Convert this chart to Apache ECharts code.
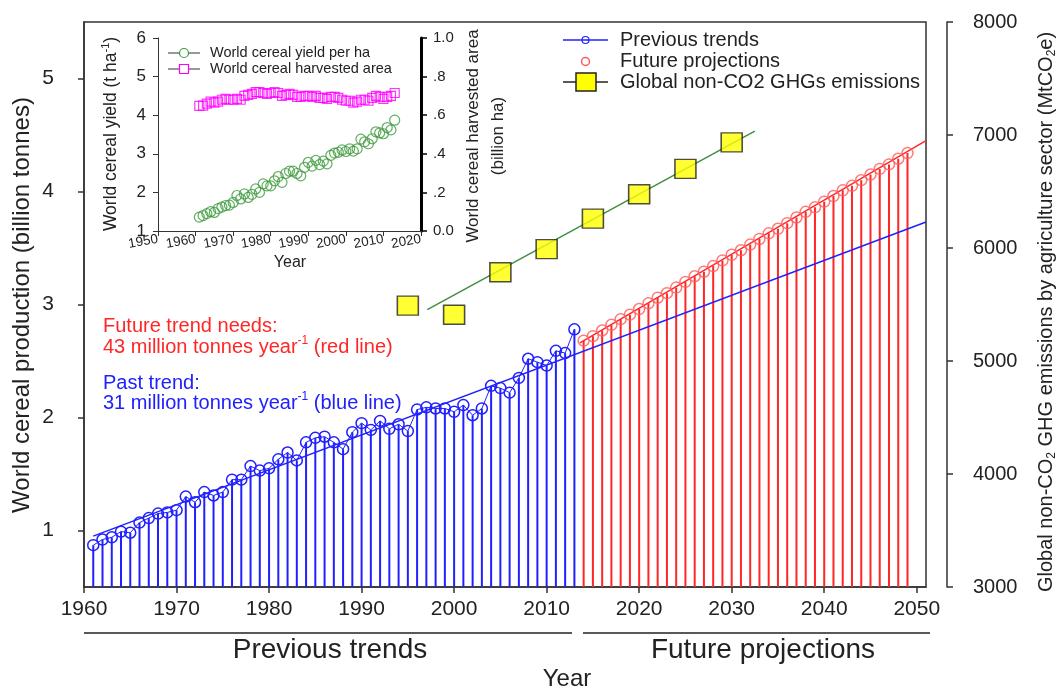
<!DOCTYPE html>
<html>
<head>
<meta charset="utf-8">
<script src="https://cdn.jsdelivr.net/npm/echarts@6/dist/echarts.min.js"></script>
<style>
  html, body { margin: 0; padding: 0; background: #fff; }
  #chart { width: 1063px; height: 691px; }
</style>
</head>
<body>
<div id="chart"></div>
<script>
// World cereal production (billion tonnes), observed years
const pastYears = [1961,1962,1963,1964,1965,1966,1967,1968,1969,1970,
  1971,1972,1973,1974,1975,1976,1977,1978,1979,1980,
  1981,1982,1983,1984,1985,1986,1987,1988,1989,1990,
  1991,1992,1993,1994,1995,1996,1997,1998,1999,2000,
  2001,2002,2003,2004,2005,2006,2007,2008,2009,2010,
  2011,2012,2013];
const pastProduction = [0.87,0.92,0.94,0.99,0.98,1.07,1.11,1.15,1.16,1.18,
  1.30,1.25,1.34,1.31,1.34,1.45,1.45,1.57,1.53,1.55,
  1.63,1.69,1.62,1.78,1.82,1.83,1.78,1.72,1.87,1.95,
  1.89,1.97,1.90,1.94,1.88,2.07,2.09,2.08,2.08,2.05,
  2.11,2.02,2.08,2.28,2.26,2.22,2.35,2.52,2.49,2.46,
  2.59,2.57,2.78];

// Projected production needed to 2049
const futureYears = [2014,2015,2016,2017,2018,2019,2020,2021,2022,2023,
  2024,2025,2026,2027,2028,2029,2030,2031,2032,2033,
  2034,2035,2036,2037,2038,2039,2040,2041,2042,2043,
  2044,2045,2046,2047,2048,2049];
const futureProduction = [2.68,2.72,2.77,2.82,2.87,2.91,2.96,3.01,3.06,3.10,
  3.15,3.20,3.25,3.29,3.34,3.39,3.44,3.48,3.53,3.58,
  3.63,3.67,3.72,3.77,3.82,3.86,3.91,3.96,4.01,4.05,
  4.10,4.15,4.20,4.24,4.29,4.34];

// Trend lines (end points)
const pastTrend = [[1961, 0.95], [2051, 3.73]];
const futureTrend = [[2013.6, 2.66], [2051, 4.45]];

// Global non-CO2 GHG emissions from agriculture (MtCO2e)
const emissionYears = [1995, 2000, 2005, 2010, 2015, 2020, 2025, 2030];
const emissions = [5490, 5410, 5785, 5990, 6260, 6475, 6700, 6935];
const emissionTrend = [[1997.1, 5455], [2032.5, 7035]];

// Inset: yield (t/ha) and harvested area (billion ha), same years as pastYears
const cerealYield = [1.36,1.40,1.45,1.50,1.48,1.58,1.62,1.66,1.67,1.74,
  1.92,1.83,1.96,1.87,1.95,2.09,2.00,2.22,2.17,2.17,
  2.30,2.41,2.26,2.49,2.55,2.55,2.49,2.43,2.65,2.78,
  2.68,2.83,2.72,2.81,2.74,2.96,3.02,3.04,3.10,3.06,
  3.13,3.07,3.13,3.38,3.31,3.26,3.39,3.57,3.54,3.52,
  3.68,3.62,3.87];
const harvestedArea = [0.648,0.650,0.660,0.670,0.665,0.670,0.680,0.685,0.680,0.680,
  0.685,0.680,0.700,0.705,0.710,0.720,0.720,0.715,0.710,0.715,
  0.720,0.715,0.700,0.705,0.710,0.705,0.695,0.695,0.700,0.700,
  0.695,0.700,0.690,0.690,0.685,0.695,0.695,0.690,0.680,0.675,
  0.675,0.665,0.670,0.680,0.680,0.675,0.690,0.700,0.695,0.685,
  0.695,0.700,0.715];

// Tick positions
const mainXTicks = [1960, 1970, 1980, 1990, 2000, 2010, 2020, 2030, 2040, 2050];
const mainYTicks = [1, 2, 3, 4, 5];

const FONT = "'Liberation Sans', Arial, sans-serif";
const INK = '#222';
const BLUE = '#2020ff';
const RED = '#ff2626';
const Y_BASE = 0.5;

const pairs = (xs, ys) => xs.map((x, i) => [x, ys[i]]);
const plain = v => String(v);

function stemRenderer(color) {
  return function (params, api) {
    const top = api.coord([api.value(0), api.value(1)]);
    const base = api.coord([api.value(0), Y_BASE]);
    return {
      type: 'line',
      shape: { x1: top[0], y1: top[1], x2: base[0], y2: base[1] },
      style: { stroke: color, lineWidth: 2 }
    };
  };
}

const chart = echarts.init(document.getElementById('chart'), null, { renderer: 'canvas' });

const axisLineDark = { show: true, lineStyle: { color: '#333', width: 1.5 } };

const option = {
  backgroundColor: '#fff',
  animation: false,
  textStyle: { fontFamily: FONT },
  grid: [
    { left: 84, right: 137, top: 22, bottom: 104, show: true, borderColor: '#333', borderWidth: 1.5, backgroundColor: 'transparent' },
    { left: 158, right: 642, top: 38, bottom: 460 }
  ],
  xAxis: [
    {
      gridIndex: 0, type: 'value', min: 1960, max: 2051,
      axisLine: axisLineDark,
      axisTick: { show: true, length: 6, customValues: mainXTicks, lineStyle: { color: '#333', width: 1.5 } },
      axisLabel: { customValues: mainXTicks, fontSize: 21, color: INK, margin: 12, fontFamily: FONT, formatter: plain },
      splitLine: { show: false }
    },
    {
      gridIndex: 1, type: 'value', min: 1950, max: 2020, interval: 10,
      axisLine: { show: true, lineStyle: { color: '#333', width: 1 } },
      axisTick: { show: true, length: 5, lineStyle: { color: '#333' } },
      axisLabel: { fontSize: 13.5, color: INK, margin: 8, rotate: 10, fontFamily: FONT, formatter: plain },
      splitLine: { show: false }
    }
  ],
  yAxis: [
    {
      gridIndex: 0, type: 'value', min: 0.5, max: 5.5, position: 'left',
      axisLine: axisLineDark,
      axisTick: { show: true, length: 6, customValues: mainYTicks, lineStyle: { color: '#333', width: 1.5 } },
      axisLabel: { customValues: mainYTicks, fontSize: 21, color: INK, margin: 30, fontFamily: FONT },
      splitLine: { show: false }
    },
    {
      gridIndex: 0, type: 'value', min: 3000, max: 8000, interval: 1000, position: 'right', offset: 21,
      axisLine: axisLineDark,
      axisTick: { show: true, length: 6, lineStyle: { color: '#333', width: 1.5 } },
      axisLabel: { fontSize: 20, color: INK, margin: 26, fontFamily: FONT, formatter: plain },
      splitLine: { show: false }
    },
    {
      gridIndex: 1, type: 'value', min: 1, max: 6, interval: 1, position: 'left',
      axisLine: { show: true, lineStyle: { color: '#333', width: 1 } },
      axisTick: { show: true, length: 5, lineStyle: { color: '#333' } },
      axisLabel: { fontSize: 17, color: INK, margin: 12, fontFamily: FONT },
      splitLine: { show: false }
    },
    {
      gridIndex: 1, type: 'value', min: 0, max: 1, interval: 0.2, position: 'right',
      axisLine: { show: true, lineStyle: { color: '#000', width: 3 } },
      axisTick: { show: true, length: 6, lineStyle: { color: '#000', width: 1.5 } },
      axisLabel: {
        fontSize: 15, color: INK, margin: 12, fontFamily: FONT,
        formatter: v => (v === 0 ? '0.0' : v === 1 ? '1.0' : '.' + Math.round(v * 10))
      },
      splitLine: { show: false }
    }
  ],
  series: [
    {
      name: 'Past stems', type: 'custom', coordinateSystem: 'cartesian2d',
      xAxisIndex: 0, yAxisIndex: 0, encode: { x: 0, y: 1 },
      data: pairs(pastYears, pastProduction), renderItem: stemRenderer(BLUE), z: 2
    },
    {
      name: 'Future stems', type: 'custom', coordinateSystem: 'cartesian2d',
      xAxisIndex: 0, yAxisIndex: 0, encode: { x: 0, y: 1 },
      data: pairs(futureYears, futureProduction), renderItem: stemRenderer(RED), z: 2
    },
    {
      name: 'Past trend', type: 'line', xAxisIndex: 0, yAxisIndex: 0,
      data: pastTrend, symbol: 'none', lineStyle: { color: BLUE, width: 1.5 }, z: 3
    },
    {
      name: 'Future trend', type: 'line', xAxisIndex: 0, yAxisIndex: 0,
      data: futureTrend, symbol: 'none', lineStyle: { color: RED, width: 1.5 }, z: 3
    },
    {
      name: 'Previous trends', type: 'line', xAxisIndex: 0, yAxisIndex: 0,
      data: pairs(pastYears, pastProduction),
      symbol: 'circle', symbolSize: 11, showAllSymbol: true,
      lineStyle: { color: BLUE, width: 1 },
      itemStyle: { color: 'rgba(0,0,0,0)', borderColor: BLUE, borderWidth: 1.5 }, z: 4
    },
    {
      name: 'Future projections', type: 'scatter', xAxisIndex: 0, yAxisIndex: 0,
      data: pairs(futureYears, futureProduction),
      symbol: 'circle', symbolSize: 11,
      itemStyle: { color: 'rgba(0,0,0,0)', borderColor: '#ff5a5a', borderWidth: 1.5 }, z: 4
    },
    {
      name: 'Emission trend', type: 'line', xAxisIndex: 0, yAxisIndex: 1,
      data: emissionTrend, symbol: 'none', lineStyle: { color: '#3f8f3f', width: 1.5 }, z: 3
    },
    {
      name: 'Global non-CO2 GHGs emissions', type: 'scatter', xAxisIndex: 0, yAxisIndex: 1,
      data: pairs(emissionYears, emissions),
      symbol: 'rect', symbolSize: [21, 19],
      itemStyle: { color: '#ffff00', borderColor: '#222', borderWidth: 1.5 }, z: 5
    },
    {
      name: 'World cereal yield per ha', type: 'scatter', xAxisIndex: 1, yAxisIndex: 2,
      data: pairs(pastYears, cerealYield),
      symbol: 'circle', symbolSize: 10,
      itemStyle: { color: 'rgba(0,0,0,0)', borderColor: '#3c9a3c', borderWidth: 1.2 }
    },
    {
      name: 'World cereal harvested area', type: 'scatter', xAxisIndex: 1, yAxisIndex: 3,
      data: pairs(pastYears, harvestedArea),
      symbol: 'rect', symbolSize: 9,
      itemStyle: { color: 'rgba(0,0,0,0)', borderColor: '#ff00ff', borderWidth: 1.2 }
    }
  ],
  graphic: [
    // main legend
    { type: 'line', shape: { x1: 563, y1: 40, x2: 608, y2: 40 }, style: { stroke: BLUE, lineWidth: 1.5 } },
    { type: 'circle', shape: { cx: 585.5, cy: 40, r: 3.5 }, style: { fill: 'none', stroke: BLUE, lineWidth: 1.2 } },
    { type: 'text', x: 620, y: 40, style: { text: 'Previous trends', font: '20px ' + FONT, fill: INK, verticalAlign: 'middle' } },
    { type: 'circle', shape: { cx: 585.5, cy: 61.5, r: 4 }, style: { fill: 'none', stroke: '#ff5a5a', lineWidth: 1.5 } },
    { type: 'text', x: 620, y: 61.5, style: { text: 'Future projections', font: '20px ' + FONT, fill: INK, verticalAlign: 'middle' } },
    { type: 'line', shape: { x1: 563, y1: 82, x2: 608, y2: 82 }, style: { stroke: '#222', lineWidth: 1.5 } },
    { type: 'rect', shape: { x: 576, y: 73, width: 20, height: 18 }, style: { fill: '#ffff00', stroke: '#222', lineWidth: 1.5 }, z: 10 },
    { type: 'text', x: 620, y: 82, style: { text: 'Global non-CO2 GHGs emissions', font: '20px ' + FONT, fill: INK, verticalAlign: 'middle' } },

    // inset legend
    { type: 'line', shape: { x1: 168, y1: 53, x2: 200, y2: 53 }, style: { stroke: '#333', lineWidth: 1 } },
    { type: 'circle', shape: { cx: 184, cy: 53, r: 4.5 }, style: { fill: '#fff', stroke: '#3c9a3c', lineWidth: 1.2 }, z: 10 },
    { type: 'text', x: 210, y: 53, style: { text: 'World cereal yield per ha', font: '14.5px ' + FONT, fill: INK, verticalAlign: 'middle' } },
    { type: 'line', shape: { x1: 168, y1: 69, x2: 200, y2: 69 }, style: { stroke: '#333', lineWidth: 1 } },
    { type: 'rect', shape: { x: 179.5, y: 64.5, width: 9, height: 9 }, style: { fill: '#fff', stroke: '#ff00ff', lineWidth: 1.2 }, z: 10 },
    { type: 'text', x: 210, y: 69, style: { text: 'World cereal harvested area', font: '14.5px ' + FONT, fill: INK, verticalAlign: 'middle' } },

    // inset axis names
    {
      type: 'text', x: 111, y: 134, rotation: Math.PI / 2,
      style: {
        text: 'World cereal yield (t ha{sup|-1})', font: '17.5px ' + FONT, fill: INK,
        align: 'center', verticalAlign: 'middle', lineHeight: 22,
        rich: { sup: { fontSize: 11, lineHeight: 11, verticalAlign: 'top', fill: INK } }
      }
    },
    {
      type: 'text', x: 473, y: 136, rotation: Math.PI / 2,
      style: { text: 'World cereal harvested area', font: '17px ' + FONT, fill: INK, align: 'center', verticalAlign: 'middle' }
    },
    {
      type: 'text', x: 498, y: 136, rotation: Math.PI / 2,
      style: { text: '(billion ha)', font: '17px ' + FONT, fill: INK, align: 'center', verticalAlign: 'middle' }
    },
    { type: 'text', x: 290, y: 263, style: { text: 'Year', font: '16px ' + FONT, fill: INK, align: 'center', verticalAlign: 'middle' } },

    // main axis names
    {
      type: 'text', x: 22, y: 305, rotation: Math.PI / 2,
      style: { text: 'World cereal production (billion tonnes)', font: '24px ' + FONT, fill: INK, align: 'center', verticalAlign: 'middle' }
    },
    {
      type: 'text', x: 1046, y: 312, rotation: Math.PI / 2,
      style: {
        text: 'Global non-CO{sub|2} GHG emissions by agriculture sector (MtCO{sub|2}e)',
        font: '20px ' + FONT, fill: INK, align: 'center', verticalAlign: 'middle', lineHeight: 24,
        rich: { sub: { fontSize: 12, lineHeight: 12, verticalAlign: 'bottom', fill: INK } }
      }
    },

    // annotations
    { type: 'text', x: 103, y: 326, style: { text: 'Future trend needs:', font: '20px ' + FONT, fill: RED, verticalAlign: 'middle' } },
    {
      type: 'text', x: 103, y: 347,
      style: {
        text: '43 million tonnes year{sup|-1} (red line)', font: '20px ' + FONT, fill: RED, verticalAlign: 'middle', lineHeight: 24,
        rich: { sup: { fontSize: 12, lineHeight: 12, verticalAlign: 'top', fill: RED } }
      }
    },
    { type: 'text', x: 103, y: 383, style: { text: 'Past trend:', font: '20px ' + FONT, fill: BLUE, verticalAlign: 'middle' } },
    {
      type: 'text', x: 103, y: 403,
      style: {
        text: '31 million tonnes year{sup|-1} (blue line)', font: '20px ' + FONT, fill: BLUE, verticalAlign: 'middle', lineHeight: 24,
        rich: { sup: { fontSize: 12, lineHeight: 12, verticalAlign: 'top', fill: BLUE } }
      }
    },

    // period brackets under the axis
    { type: 'line', shape: { x1: 84, y1: 633, x2: 572, y2: 633 }, style: { stroke: INK, lineWidth: 1.5 } },
    { type: 'text', x: 330, y: 650, style: { text: 'Previous trends', font: '28px ' + FONT, fill: INK, align: 'center', verticalAlign: 'middle' } },
    { type: 'line', shape: { x1: 583, y1: 633, x2: 930, y2: 633 }, style: { stroke: INK, lineWidth: 1.5 } },
    { type: 'text', x: 763, y: 650, style: { text: 'Future projections', font: '28px ' + FONT, fill: INK, align: 'center', verticalAlign: 'middle' } },
    { type: 'text', x: 567, y: 679, style: { text: 'Year', font: '24px ' + FONT, fill: INK, align: 'center', verticalAlign: 'middle' } }
  ]
};

chart.setOption(option);
</script>
</body>
</html>
